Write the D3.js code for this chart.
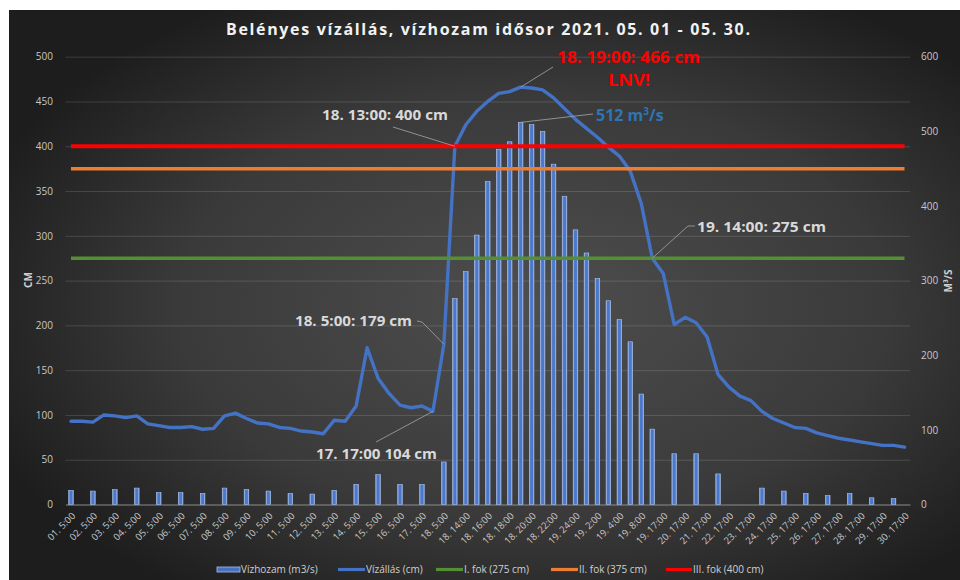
<!DOCTYPE html>
<html><head><meta charset="utf-8">
<script src="https://cdn.jsdelivr.net/npm/d3@7"></script>
<style>html,body{margin:0;padding:0;background:#fff;} svg{display:block;}</style>
</head><body><svg id="chart" width="960" height="580"></svg>
<script>
// ---------------- DATA ----------------
const categories = [
 "01. 5:00","01. 17:00","02. 5:00","02. 17:00","03. 5:00","03. 17:00","04. 5:00","04. 17:00",
 "05. 5:00","05. 17:00","06. 5:00","06. 17:00","07. 5:00","07. 17:00","08. 5:00","08. 17:00",
 "09. 5:00","09. 17:00","10. 5:00","10. 17:00","11. 5:00","11. 17:00","12. 5:00","12. 17:00",
 "13. 5:00","13. 17:00","14. 5:00","14. 17:00","15. 5:00","15. 17:00","16. 5:00","16. 17:00",
 "17. 5:00","17. 17:00","18. 5:00","18. 13:00","18. 14:00","18. 15:00","18. 16:00","18. 17:00",
 "18. 18:00","18. 19:00","18. 20:00","18. 21:00","18. 22:00","18. 23:00","19. 24:00","19. 1:00",
 "19. 2:00","19. 3:00","19. 4:00","19. 6:00","19. 8:00","19. 14:00","19. 17:00","20. 5:00",
 "20. 17:00","21. 5:00","21. 17:00","22. 5:00","22. 17:00","23. 5:00","23. 17:00","24. 5:00",
 "24. 17:00","25. 5:00","25. 17:00","26. 5:00","26. 17:00","27. 5:00","27. 17:00","28. 5:00",
 "28. 17:00","29. 5:00","29. 17:00","30. 5:00","30. 17:00"
];
// Vízállás (cm)
const waterLevel = [
 93,93,92,100,99,97,99,90,88,86,86,87,84,85,99,102,
 96,91,90,86,85,82,81,79,94,93,110,175,141,124,111,108,
 110,104,179,400,424,439,450,459,461,466,465,463,454,442,430,420,
 410,399,389,372,336,275,258,201,209,203,187,145,131,121,116,104,
 96,91,86,85,80,77,74,72,70,68,66,66,64
];
// Vízhozam (m3/s)
const discharge = [
 19,null,18,null,20,null,22,null,16,null,16,null,15,null,22,null,
 20,null,18,null,15,null,14,null,19,null,27,null,40,null,27,null,
 27,null,57,276,312,361,433,476,486,512,509,500,456,413,368,337,
 303,273,248,218,148,101,null,68,null,68,null,41,null,null,null,22,
 null,18,null,15,null,12,null,15,null,9,null,8,null
];
const leftTicks = [0,50,100,150,200,250,300,350,400,450,500];
const rightTicks = [0,100,200,300,400,500,600];
const thresholdValues = [275, 375, 400];
const seriesNames = ["Vízhozam (m3/s)","Vízállás (cm)","I. fok (275 cm)","II. fok (375 cm)","III. fok (400 cm)"];
const title = "Belényes vízállás, vízhozam idősor 2021. 05. 01 - 05. 30.";

// ---------------- STYLE ----------------
const thresholdColors = ["#548f33", "#ed7d31", "#ff0000"];
const thresholdWidths = [3.5, 3.5, 4];
const blue = "#4472c4";
const FONT = "'Open Sans', 'Liberation Sans', sans-serif";

const svg = d3.select("#chart");
const defs = svg.append("defs");
const rg = defs.append("radialGradient").attr("id","bg")
  .attr("cx","55%").attr("cy","52%").attr("r","62%");
rg.append("stop").attr("offset","0%").attr("stop-color","#4e4e4e");
rg.append("stop").attr("offset","60%").attr("stop-color","#3a3a3a");
rg.append("stop").attr("offset","100%").attr("stop-color","#1d1d1d");
const bg2 = defs.append("linearGradient").attr("id","barg").attr("x1","0").attr("x2","1");
bg2.append("stop").attr("offset","0%").attr("stop-color","#9db6e6");
bg2.append("stop").attr("offset","30%").attr("stop-color","#4a78cc");
bg2.append("stop").attr("offset","70%").attr("stop-color","#4a78cc");
bg2.append("stop").attr("offset","100%").attr("stop-color","#9db6e6");

svg.append("rect").attr("x",9).attr("y",10).attr("width",951).attr("height",570).attr("fill","url(#bg)");

// ---------------- SCALES ----------------
const x = d3.scaleBand().domain(d3.range(categories.length)).range([65.5, 910]).padding(0);
const cx = i => x(i) + x.bandwidth()/2;
const yL = d3.scaleLinear().domain([0,500]).range([504.5, 56.7]);
const yR = d3.scaleLinear().domain([0,600]).range([504.5, 56.7]);

// gridlines
const gl = svg.append("g").attr("transform","translate(65.5,0)")
  .call(d3.axisLeft(yL).tickValues(leftTicks.filter(v=>v>0)).tickSize(-844.5).tickFormat(""));
gl.select(".domain").remove();
gl.selectAll("line").attr("stroke","#ffffff").attr("stroke-opacity",0.14).attr("stroke-width",1);

// left axis labels
const ax = svg.append("g").attr("transform","translate(53,0)")
  .call(d3.axisLeft(yL).tickValues(leftTicks).tickSize(0).tickPadding(0));
ax.select(".domain").remove();
ax.selectAll("text").attr("fill","#c8c8c8").attr("font-size",10).attr("font-family",FONT);

// right axis labels
const ar = svg.append("g").attr("transform","translate(921,0)")
  .call(d3.axisRight(yR).tickValues(rightTicks).tickSize(0).tickPadding(0));
ar.select(".domain").remove();
ar.selectAll("text").attr("fill","#c8c8c8").attr("font-size",10).attr("font-family",FONT);

// x axis
const xa = svg.append("g").attr("transform","translate(0,504.5)")
  .call(d3.axisBottom(x).tickValues(d3.range(0,categories.length,2)).tickFormat(i=>categories[i]).tickSize(0));
xa.select(".domain").attr("stroke","#8c8c8c").attr("stroke-width",1);
xa.selectAll("text").attr("fill","#c8c8c8").attr("font-size",9.5).attr("font-family",FONT)
  .attr("text-anchor","end").attr("x",0).attr("y",0).attr("dy",null)
  .attr("transform","translate(5,12) rotate(-45)");

// axis titles
svg.append("text").attr("transform","translate(32,280) rotate(-90)").attr("text-anchor","middle")
  .attr("fill","#d0d0d0").attr("font-size",10).attr("font-weight","bold").attr("font-family",FONT).text("CM");
svg.append("text").attr("transform","translate(952,281) rotate(-90)").attr("text-anchor","middle")
  .attr("fill","#d0d0d0").attr("font-size",10).attr("font-weight","bold").attr("font-family",FONT).text("M³/S");

// bars
const bw = 4.6;
svg.append("g").selectAll("rect").data(discharge.map((v,i)=>({v,i})).filter(d=>d.v!=null))
  .join("rect")
  .attr("x",d=>cx(d.i)-bw/2).attr("y",d=>yR(d.v)).attr("width",bw).attr("height",d=>yR(0)-yR(d.v))
  .attr("fill","url(#barg)").attr("stroke","#a9bfe8").attr("stroke-width",0.6);

// water level line
const line = d3.line().defined(d=>d!=null).x((d,i)=>cx(i)).y(d=>yL(d));
svg.append("path").datum(waterLevel).attr("d",line).attr("fill","none")
  .attr("stroke",blue).attr("stroke-width",3.4).attr("stroke-linejoin","round").attr("stroke-linecap","round");

// threshold lines
thresholdValues.forEach((v,k)=>{
  const arr = categories.map(()=>v);
  svg.append("path").datum(arr).attr("d",line).attr("fill","none")
    .attr("stroke",thresholdColors[k]).attr("stroke-width",thresholdWidths[k]);
});

// title
svg.append("text").attr("x",226).attr("y",35).attr("fill","#f2f2f2").attr("font-size",16)
  .attr("font-weight","bold").attr("font-family",FONT).attr("textLength",524).attr("lengthAdjust","spacing")
  .text(title);

// annotations
function leader(pts){
  svg.append("path").attr("d", d3.line()(pts)).attr("fill","none").attr("stroke","#a6a6a6").attr("stroke-width",0.8);
}
function label(txt, xx, yy, w, color, size){
  svg.append("text").attr("x",xx).attr("y",yy).attr("fill",color).attr("font-size",size||15)
   .attr("font-weight","bold").attr("font-family",FONT).attr("textLength",w).attr("lengthAdjust","spacingAndGlyphs").text(txt);
}
leader([[393,127],[cx(35),yL(waterLevel[35])]]);
label("18. 13:00: "+waterLevel[35]+" cm", 322, 120, 126, "#d9d9d9");

leader([[553,67],[cx(41),yL(waterLevel[41])]]);
label("18. 19:00: "+waterLevel[41]+" cm", 557, 63, 143, "#ff0000", 16);
label("LNV!", 608, 86, 42, "#ff0000", 16);

leader([[593,114],[cx(41),yR(discharge[41])]]);
svg.append("text").attr("x",596).attr("y",121).attr("fill","#2e75b6").attr("font-size",16)
  .attr("font-weight","bold").attr("font-family",FONT)
  .html(discharge[41]+" m<tspan font-size='10' dy='-6'>3</tspan><tspan dy='6'>/s</tspan>");

leader([[695,226],[688,226],[cx(53),yL(waterLevel[53])]]);
label("19. 14:00: "+waterLevel[53]+" cm", 697, 232, 129, "#d9d9d9");

leader([[417,321],[422,322],[cx(34),yL(waterLevel[34])]]);
label("18. 5:00: "+waterLevel[34]+" cm", 295, 326, 117, "#d9d9d9");

leader([[376,442],[cx(33),yL(waterLevel[33])]]);
label("17. 17:00 "+waterLevel[33]+" cm", 316, 459, 121, "#d9d9d9");

// legend
const lgX = [217, 338, 436, 551, 666];
const lgW = [23, 27, 27, 27, 26];
const lgY = 569.5;
const lg = svg.append("g");
seriesNames.forEach((n,k)=>{
  if(k===0){
    lg.append("rect").attr("x",lgX[k]).attr("y",lgY-2.5).attr("width",lgW[k]).attr("height",5)
      .attr("fill",blue).attr("stroke","#a9bfe8").attr("stroke-width",0.8);
  } else {
    const c = k===1 ? blue : thresholdColors[k-2];
    lg.append("line").attr("x1",lgX[k]).attr("x2",lgX[k]+lgW[k]).attr("y1",lgY).attr("y2",lgY)
      .attr("stroke",c).attr("stroke-width",3.2);
  }
  lg.append("text").attr("x",lgX[k]+lgW[k]+1).attr("y",lgY+3.5).attr("fill","#d0d0d0")
    .attr("font-size",10).attr("font-family",FONT).text(n);
});
</script></body></html>
